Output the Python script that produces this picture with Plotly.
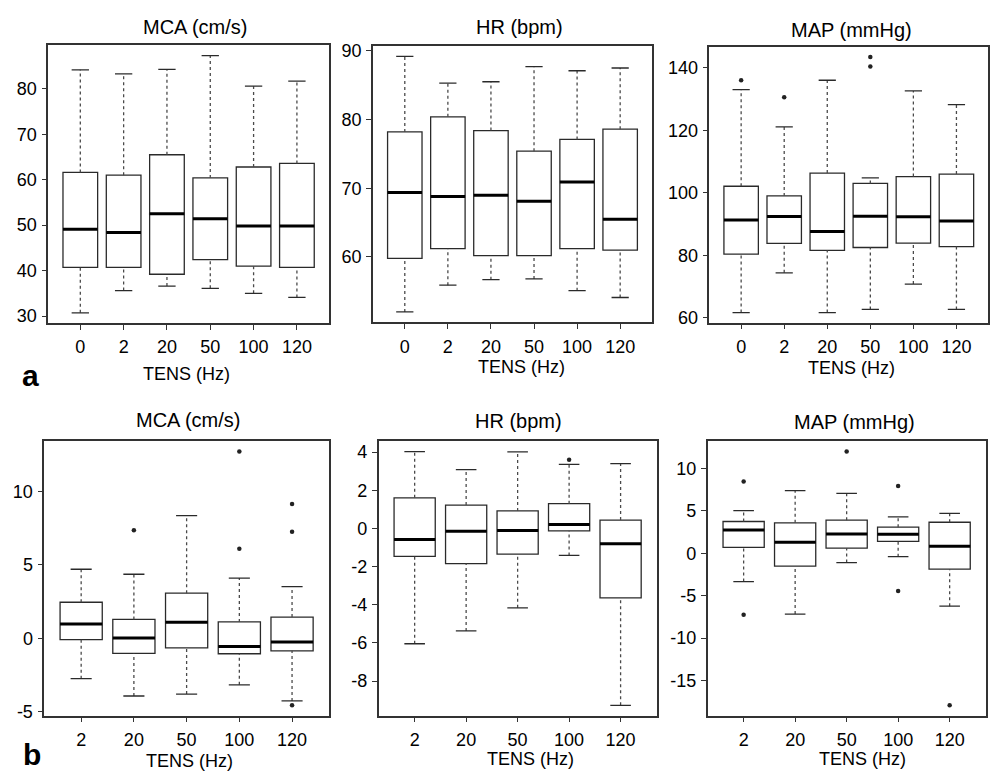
import plotly.graph_objects as go

# ---------------- data ----------------
cats_a = ["0", "2", "20", "50", "100", "120"]
cats_b = ["2", "20", "50", "100", "120"]

# panel a: absolute values
mca_a_lower = [30.7, 35.6, 36.6, 36.1, 35.0, 34.1]
mca_a_q1 = [40.7, 40.7, 39.2, 42.4, 41.0, 40.7]
mca_a_median = [49.1, 48.4, 52.5, 51.4, 49.8, 49.8]
mca_a_q3 = [61.6, 61.0, 65.5, 60.4, 62.8, 63.6]
mca_a_upper = [84.2, 83.3, 84.3, 87.3, 80.6, 81.7]
mca_a_out = []

hr_a_lower = [52.0, 55.9, 56.7, 56.8, 55.1, 54.1]
hr_a_q1 = [59.8, 61.2, 60.2, 60.2, 61.2, 61.0]
hr_a_median = [69.4, 68.8, 69.0, 68.1, 70.9, 65.5]
hr_a_q3 = [78.2, 80.4, 78.4, 75.4, 77.1, 78.6]
hr_a_upper = [89.2, 85.3, 85.5, 87.7, 87.1, 87.5]
hr_a_out = []

map_a_lower = [61.7, 74.4, 61.7, 62.7, 70.8, 62.7]
map_a_q1 = [80.4, 83.8, 81.6, 82.5, 83.9, 82.8]
map_a_median = [91.3, 92.4, 87.6, 92.5, 92.3, 91.0]
map_a_q3 = [102.1, 99.0, 106.3, 103.0, 105.2, 106.0]
map_a_upper = [133.0, 121.1, 136.0, 104.8, 132.6, 128.2]
map_a_out = [("0", 136.0), ("2", 130.6), ("50", 143.4), ("50", 140.4)]

# panel b: changes
mca_b_lower = [-2.75, -3.93, -3.80, -3.17, -4.27]
mca_b_q1 = [-0.09, -1.03, -0.65, -1.05, -0.85]
mca_b_median = [0.98, 0.02, 1.09, -0.56, -0.25]
mca_b_q3 = [2.46, 1.29, 3.08, 1.12, 1.45]
mca_b_upper = [4.71, 4.37, 8.37, 4.11, 3.53]
mca_b_out = [("20", 7.37), ("100", 12.73), ("100", 6.10),
             ("120", 9.16), ("120", 7.26), ("120", -4.57)]

hr_b_lower = [-6.04, -5.37, -4.16, -1.41, -9.27]
hr_b_q1 = [-1.46, -1.84, -1.34, -0.12, -3.64]
hr_b_median = [-0.58, -0.15, -0.10, 0.21, -0.80]
hr_b_q3 = [1.61, 1.23, 0.92, 1.30, 0.44]
hr_b_upper = [4.03, 3.09, 4.02, 3.36, 3.40]
hr_b_out = [("100", 3.60)]

map_b_lower = [-3.34, -7.17, -1.09, -0.39, -6.24]
map_b_q1 = [0.70, -1.51, 0.62, 1.40, -1.86]
map_b_median = [2.74, 1.31, 2.28, 2.24, 0.85]
map_b_q3 = [3.76, 3.60, 3.91, 3.09, 3.67]
map_b_upper = [5.03, 7.40, 7.09, 4.30, 4.72]
map_b_out = [("2", 8.49), ("2", -7.25), ("50", 12.01),
             ("100", 7.94), ("100", -4.46), ("120", -17.95)]

ticks_mca_a = [30, 40, 50, 60, 70, 80]
ticks_hr_a = [60, 70, 80, 90]
ticks_map_a = [60, 80, 100, 120, 140]
ticks_mca_b = [-5, 0, 5, 10]
ticks_hr_b = [-8, -6, -4, -2, 0, 2, 4]
ticks_map_b = [-15, -10, -5, 0, 5, 10]

# ---------------- layout geometry (pixels) ----------------
W, H = 990, 779
FONT = "Arial, Liberation Sans, Helvetica, sans-serif"
FRAME = "#333333"
BOXC = "#2a2a2a"
WHISK = "#4a4a4a"

panels = [
    # cats, lower, q1, med, q3, upper, outliers, yticks, (x0,x1,ytop,ybot), title, title xy, xlabel xy
    (cats_a, mca_a_lower, mca_a_q1, mca_a_median, mca_a_q3, mca_a_upper, mca_a_out,
     ticks_mca_a, (48.3, 329.3, 41.0, 322.7), "MCA (cm/s)", (195, 22), (187, 374)),
    (cats_a, hr_a_lower, hr_a_q1, hr_a_median, hr_a_q3, hr_a_upper, hr_a_out,
     ticks_hr_a, (373.3, 652.7, 41.7, 321.7), "HR (bpm)", (520, 22), (522, 367)),
    (cats_a, map_a_lower, map_a_q1, map_a_median, map_a_q3, map_a_upper, map_a_out,
     ticks_map_a, (710.0, 989.3, 42.5, 322.3), "MAP (mmHg)", (852, 25), (852, 368)),
    (cats_b, mca_b_lower, mca_b_q1, mca_b_median, mca_b_q3, mca_b_upper, mca_b_out,
     ticks_mca_b, (44.3, 329.3, 442.7, 720.7), "MCA (cm/s)", (188, 421), (190, 767)),
    (cats_b, hr_b_lower, hr_b_q1, hr_b_median, hr_b_q3, hr_b_upper, hr_b_out,
     ticks_hr_b, (379.0, 657.3, 442.7, 720.7), "HR (bpm)", (519, 422), (531, 765)),
    (cats_b, map_b_lower, map_b_q1, map_b_median, map_b_q3, map_b_upper, map_b_out,
     ticks_map_b, (708.3, 986.7, 442.7, 720.7), "MAP (mmHg)", (855, 423), (863, 765)),
]

fig = go.Figure()
annotations = []
layout_axes = {}

for i, (cats, lo, q1, med, q3, hi, outs, yt, geo, title, txy, lxy) in enumerate(panels, start=1):
    xa = "x" if i == 1 else f"x{i}"
    ya = "y" if i == 1 else f"y{i}"
    n = len(cats)
    pos = list(range(1, n + 1))
    posmap = dict(zip(cats, pos))

    # boxes (whiskers drawn separately as dashed lines)
    fig.add_trace(go.Box(
        x=pos, q1=q1, median=med, q3=q3, lowerfence=q1, upperfence=q3,
        width=0.8, whiskerwidth=0, fillcolor="white",
        line=dict(color=BOXC, width=1.3), boxpoints=False,
        xaxis=xa, yaxis=ya, showlegend=False, hoverinfo="skip"))

    # dashed whiskers
    wx, wy = [], []
    for p, a, b, c, d in zip(pos, lo, q1, q3, hi):
        wx += [p, p, None, p, p, None]
        wy += [c, d, None, a, b, None]
    fig.add_trace(go.Scatter(x=wx, y=wy, mode="lines",
                             line=dict(color=WHISK, width=1.3, dash="3px,3px"),
                             xaxis=xa, yaxis=ya, showlegend=False, hoverinfo="skip"))
    # staples
    sx, sy = [], []
    for p, a, d in zip(pos, lo, hi):
        sx += [p - 0.2, p + 0.2, None, p - 0.2, p + 0.2, None]
        sy += [d, d, None, a, a, None]
    fig.add_trace(go.Scatter(x=sx, y=sy, mode="lines",
                             line=dict(color=BOXC, width=1.3),
                             xaxis=xa, yaxis=ya, showlegend=False, hoverinfo="skip"))
    # bold medians
    mx, my = [], []
    for p, m in zip(pos, med):
        mx += [p - 0.4, p + 0.4, None]
        my += [m, m, None]
    fig.add_trace(go.Scatter(x=mx, y=my, mode="lines",
                             line=dict(color="black", width=3),
                             xaxis=xa, yaxis=ya, showlegend=False, hoverinfo="skip"))
    # outliers
    if outs:
        fig.add_trace(go.Scatter(x=[posmap[c] for c, v in outs], y=[v for c, v in outs],
                                 mode="markers",
                                 marker=dict(color="#222222", size=4.5, symbol="circle"),
                                 xaxis=xa, yaxis=ya, showlegend=False, hoverinfo="skip"))

    allv = lo + hi + [v for c, v in outs]
    vmin, vmax = min(allv), max(allv)
    pad = 0.04 * (vmax - vmin)
    x0, x1, yt0, yb0 = geo
    common = dict(showline=True, mirror=True, linecolor=FRAME, linewidth=1.5,
                  ticks="outside", ticklen=5, tickwidth=1.2, tickcolor=FRAME,
                  showgrid=False, zeroline=False,
                  tickfont=dict(family=FONT, size=18, color="black"))
    layout_axes["xaxis" if i == 1 else f"xaxis{i}"] = dict(
        domain=[x0 / W, x1 / W], anchor=ya,
        range=[0.5 - 0.04 * n, n + 0.5 + 0.04 * n],
        tickvals=pos, ticktext=cats, ticklabelstandoff=2, **common)
    layout_axes["yaxis" if i == 1 else f"yaxis{i}"] = dict(
        domain=[1 - yb0 / H, 1 - yt0 / H], anchor=xa,
        range=[vmin - pad, vmax + pad],
        tickvals=yt, ticktext=[str(t) for t in yt], ticklabelstandoff=1, **common)

    annotations.append(dict(text=title, x=txy[0] / W, y=1 - txy[1] / H,
                            xref="paper", yref="paper", showarrow=False,
                            xanchor="center", yanchor="middle",
                            font=dict(family=FONT, size=20, color="black")))
    annotations.append(dict(text="TENS (Hz)", x=lxy[0] / W, y=1 - lxy[1] / H,
                            xref="paper", yref="paper", showarrow=False,
                            xanchor="center", yanchor="middle",
                            font=dict(family=FONT, size=18, color="black")))

annotations.append(dict(text="<b>a</b>", x=31 / W, y=1 - 376 / H, xref="paper", yref="paper",
                        showarrow=False, xanchor="center", yanchor="middle",
                        font=dict(family=FONT, size=30, color="black")))
annotations.append(dict(text="<b>b</b>", x=32 / W, y=1 - 760 / H, xref="paper", yref="paper",
                        showarrow=False, xanchor="center", yanchor="middle",
                        font=dict(family=FONT, size=30, color="black")))

fig.update_layout(width=W, height=H, margin=dict(l=0, r=0, t=0, b=0),
                  paper_bgcolor="white", plot_bgcolor="white",
                  annotations=annotations, **layout_axes)

fig.write_html("out.html",
               config={"displayModeBar": False},
               post_script="document.body.style.margin='0';document.body.style.overflow='hidden';")
